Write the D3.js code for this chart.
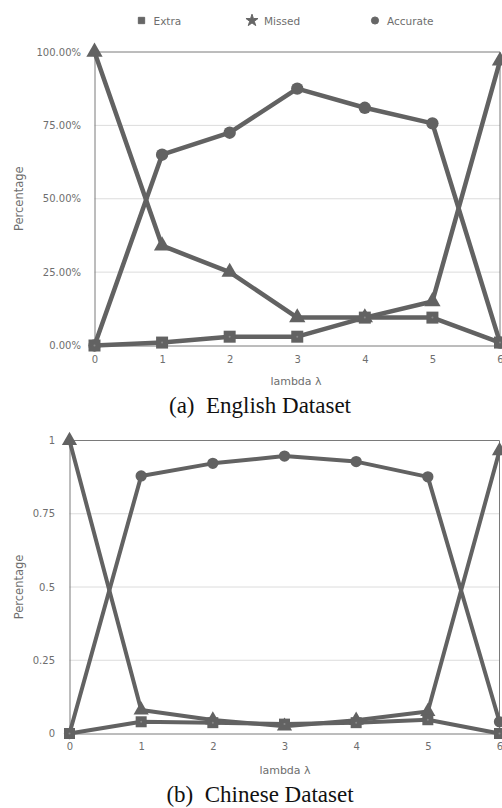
<!DOCTYPE html>
<html><head><meta charset="utf-8">
<script src="https://cdn.jsdelivr.net/npm/d3@7"></script>
<style>body{margin:0;background:#fff}svg{display:block}</style>
</head><body>
<svg id="c" width="502" height="808"></svg>
<script>
// ---- data ----
const lambdas = [0, 1, 2, 3, 4, 5, 6];
const seriesNames = ["Extra", "Missed", "Accurate"];
// (a) English Dataset (fractions)
const enExtra    = [0, 0.01, 0.03, 0.03, 0.095, 0.095, 0.01];
const enMissed   = [1, 0.34, 0.25, 0.095, 0.095, 0.15, 0.97];
const enAccurate = [0, 0.65, 0.725, 0.875, 0.81, 0.757, 0.01];
// (b) Chinese Dataset
const zhExtra    = [0, 0.04, 0.037, 0.032, 0.037, 0.047, 0];
const zhMissed   = [1, 0.08, 0.046, 0.025, 0.045, 0.075, 0.965];
const zhAccurate = [0, 0.879, 0.922, 0.947, 0.928, 0.876, 0.04];
const enTicks = [0, 0.25, 0.5, 0.75, 1];
const enTickLabels = ["0.00%", "25.00%", "50.00%", "75.00%", "100.00%"];
const zhTicks = [0, 0.25, 0.5, 0.75, 1];
const zhTickLabels = ["0", "0.25", "0.5", "0.75", "1"];
const xTickLabels = ["0", "1", "2", "3", "4", "5", "6"];

const svg = d3.select("#c");
const LINE = "#626262";
const FONT = "'DejaVu Sans', Verdana, sans-serif";
const TXT = "#6e6e6e";

// legend
const legend = svg.append("g");
const legItems = [
  {name: seriesNames[0], sym: d3.symbolSquare, size: 40, x: 141.5},
  {name: seriesNames[1], sym: d3.symbolStar, size: 45, x: 252},
  {name: seriesNames[2], sym: d3.symbolCircle, size: 40, x: 375}
];
legItems.forEach(it => {
  legend.append("path").attr("d", d3.symbol(it.sym, it.size)())
    .attr("transform", `translate(${it.x},20.5)`).attr("fill", "#666")
    .attr("stroke", "#666").attr("stroke-width", 1).attr("stroke-linejoin", "round");
  legend.append("text").attr("x", it.x + 12).attr("y", 24.5)
    .attr("font-family", FONT).attr("font-size", 10.5).attr("fill", TXT)
    .text(it.name);
});

function drawChart(cfg) {
  const g = svg.append("g");
  const x = d3.scaleLinear().domain([0, 6]).range([cfg.x0, cfg.x1]);
  const y = d3.scaleLinear().domain([0, 1]).range([cfg.y0, cfg.y1]);
  // gridlines
  g.selectAll(".grid").data(cfg.ticks.filter(t => t > 0 && t < 1)).join("line")
    .attr("x1", cfg.x0).attr("x2", cfg.x1)
    .attr("y1", d => y(d)).attr("y2", d => y(d))
    .attr("stroke", "#dcdcdc").attr("stroke-width", 1);
  // frame
  g.append("path")
    .attr("d", `M${cfg.x0},${cfg.y1}H${cfg.x1}V${cfg.y0}`)
    .attr("fill", "none").attr("stroke", "#7a7a7a").attr("stroke-width", 1);
  // axes
  const yAxis = d3.axisLeft(y).tickValues(cfg.ticks)
    .tickFormat((d, i) => cfg.tickLabels[i]).tickSize(0).tickPadding(cfg.ypad);
  const ya = g.append("g").attr("transform", `translate(${cfg.x0},0)`).call(yAxis);
  const xAxis = d3.axisBottom(x).tickValues(lambdas)
    .tickFormat((d, i) => xTickLabels[i]).tickSize(0).tickPadding(cfg.xpad);
  const xa = g.append("g").attr("transform", `translate(0,${cfg.y0})`).call(xAxis);
  [ya, xa].forEach(a => {
    a.select(".domain").attr("stroke", "#7a7a7a");
    a.selectAll("text").attr("font-family", FONT).attr("font-size", 10).attr("fill", TXT);
  });
  // axis titles
  g.append("text").attr("transform", `translate(23,${(cfg.y0 + cfg.y1) / 2}) rotate(-90)`)
    .attr("text-anchor", "middle").attr("font-family", FONT).attr("font-size", 11.5)
    .attr("fill", TXT).text("Percentage");
  g.append("text").attr("x", cfg.labX).attr("y", cfg.y0 + cfg.labDy)
    .attr("text-anchor", "middle").attr("font-family", FONT).attr("font-size", 11)
    .attr("fill", TXT).text("lambda λ");
  // caption
  g.append("text").attr("x", cfg.capX).attr("y", cfg.capY).attr("text-anchor", "middle")
    .attr("font-family", "'Liberation Serif', 'Times New Roman', serif").attr("font-size", 23)
    .attr("fill", "#111").attr("xml:space", "preserve").text(cfg.caption);

  const line = d3.line().x((d, i) => x(lambdas[i])).y(d => y(d));
  const series = [
    {vals: cfg.extra, sym: d3.symbolSquare, size: cfg.sq},
    {vals: cfg.missed, sym: d3.symbolTriangle, size: cfg.tri},
    {vals: cfg.accurate, sym: d3.symbolCircle, size: cfg.circ}
  ];
  const order = [2, 1, 0];
  order.forEach(k => {
    const s = series[k];
    g.append("path").attr("d", line(s.vals)).attr("fill", "none")
      .attr("stroke", LINE).attr("stroke-width", cfg.sw).attr("stroke-linejoin", "round");
  });
  order.forEach(k => {
    const s = series[k];
    g.selectAll(null).data(s.vals).join("path")
      .attr("d", d3.symbol(s.sym, s.size)())
      .attr("transform", (d, i) => `translate(${x(lambdas[i])},${y(d)})`)
      .attr("fill", LINE);
    if (k === 0) {
      g.selectAll(null).data(s.vals).join("circle")
        .attr("cx", (d, i) => x(lambdas[i])).attr("cy", d => y(d)).attr("r", 1)
        .attr("fill", "#888");
    }
  });
}

drawChart({x0: 94.5, x1: 500, y0: 345.5, y1: 52, ticks: enTicks, tickLabels: enTickLabels,
  ypad: 13.5, xpad: 10, labX: 296, labDy: 39, extra: enExtra, missed: enMissed, accurate: enAccurate,
  caption: "(a)  English Dataset", capX: 260, capY: 412.5, sw: 4.5, sq: 144, tri: 115, circ: 120});
drawChart({x0: 69.5, x1: 499.5, y0: 733.5, y1: 440.5, ticks: zhTicks, tickLabels: zhTickLabels,
  ypad: 14.5, xpad: 9.5, labX: 285, labDy: 40.5, extra: zhExtra, missed: zhMissed, accurate: zhAccurate,
  caption: "(b)  Chinese Dataset", capX: 260, capY: 802, sw: 4, sq: 121, tri: 100, circ: 100});
</script>
</body></html>
